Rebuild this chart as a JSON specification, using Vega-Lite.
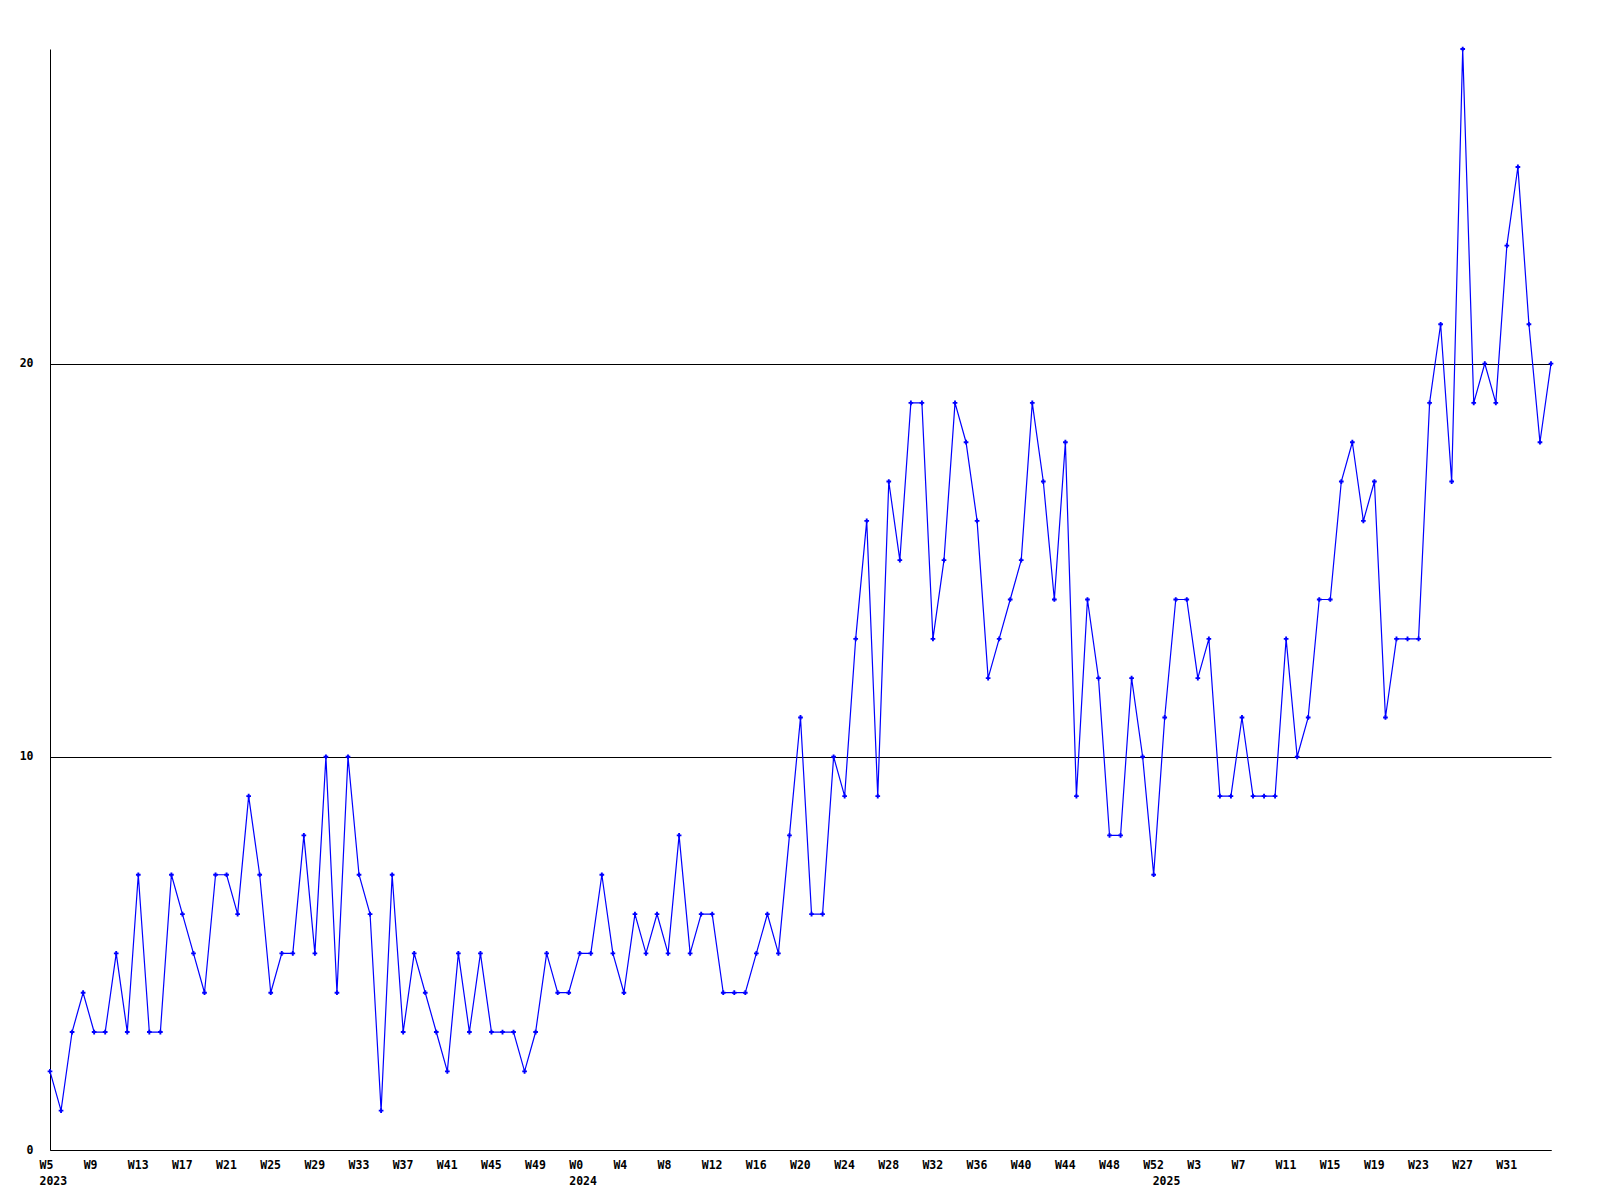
{
  "$schema": "https://vega.github.io/schema/vega-lite/v6.json",
  "width": 1501,
  "height": 1101,
  "autosize": {"type": "none"},
  "padding": {"left": 50, "top": 49, "right": 49, "bottom": 50},
  "background": "white",
  "data": {"values": [
    {"date": "2023-01-30", "value": 2}, {"date": "2023-02-06", "value": 1}, {"date": "2023-02-13", "value": 3}, {"date": "2023-02-20", "value": 4},
    {"date": "2023-02-27", "value": 3}, {"date": "2023-03-06", "value": 3}, {"date": "2023-03-13", "value": 5}, {"date": "2023-03-20", "value": 3},
    {"date": "2023-03-27", "value": 7}, {"date": "2023-04-03", "value": 3}, {"date": "2023-04-10", "value": 3}, {"date": "2023-04-17", "value": 7},
    {"date": "2023-04-24", "value": 6}, {"date": "2023-05-01", "value": 5}, {"date": "2023-05-08", "value": 4}, {"date": "2023-05-15", "value": 7},
    {"date": "2023-05-22", "value": 7}, {"date": "2023-05-29", "value": 6}, {"date": "2023-06-05", "value": 9}, {"date": "2023-06-12", "value": 7},
    {"date": "2023-06-19", "value": 4}, {"date": "2023-06-26", "value": 5}, {"date": "2023-07-03", "value": 5}, {"date": "2023-07-10", "value": 8},
    {"date": "2023-07-17", "value": 5}, {"date": "2023-07-24", "value": 10}, {"date": "2023-07-31", "value": 4}, {"date": "2023-08-07", "value": 10},
    {"date": "2023-08-14", "value": 7}, {"date": "2023-08-21", "value": 6}, {"date": "2023-08-28", "value": 1}, {"date": "2023-09-04", "value": 7},
    {"date": "2023-09-11", "value": 3}, {"date": "2023-09-18", "value": 5}, {"date": "2023-09-25", "value": 4}, {"date": "2023-10-02", "value": 3},
    {"date": "2023-10-09", "value": 2}, {"date": "2023-10-16", "value": 5}, {"date": "2023-10-23", "value": 3}, {"date": "2023-10-30", "value": 5},
    {"date": "2023-11-06", "value": 3}, {"date": "2023-11-13", "value": 3}, {"date": "2023-11-20", "value": 3}, {"date": "2023-11-27", "value": 2},
    {"date": "2023-12-04", "value": 3}, {"date": "2023-12-11", "value": 5}, {"date": "2023-12-18", "value": 4}, {"date": "2023-12-25", "value": 4},
    {"date": "2024-01-01", "value": 5}, {"date": "2024-01-08", "value": 5}, {"date": "2024-01-15", "value": 7}, {"date": "2024-01-22", "value": 5},
    {"date": "2024-01-29", "value": 4}, {"date": "2024-02-05", "value": 6}, {"date": "2024-02-12", "value": 5}, {"date": "2024-02-19", "value": 6},
    {"date": "2024-02-26", "value": 5}, {"date": "2024-03-04", "value": 8}, {"date": "2024-03-11", "value": 5}, {"date": "2024-03-18", "value": 6},
    {"date": "2024-03-25", "value": 6}, {"date": "2024-04-01", "value": 4}, {"date": "2024-04-08", "value": 4}, {"date": "2024-04-15", "value": 4},
    {"date": "2024-04-22", "value": 5}, {"date": "2024-04-29", "value": 6}, {"date": "2024-05-06", "value": 5}, {"date": "2024-05-13", "value": 8},
    {"date": "2024-05-20", "value": 11}, {"date": "2024-05-27", "value": 6}, {"date": "2024-06-03", "value": 6}, {"date": "2024-06-10", "value": 10},
    {"date": "2024-06-17", "value": 9}, {"date": "2024-06-24", "value": 13}, {"date": "2024-07-01", "value": 16}, {"date": "2024-07-08", "value": 9},
    {"date": "2024-07-15", "value": 17}, {"date": "2024-07-22", "value": 15}, {"date": "2024-07-29", "value": 19}, {"date": "2024-08-05", "value": 19},
    {"date": "2024-08-12", "value": 13}, {"date": "2024-08-19", "value": 15}, {"date": "2024-08-26", "value": 19}, {"date": "2024-09-02", "value": 18},
    {"date": "2024-09-09", "value": 16}, {"date": "2024-09-16", "value": 12}, {"date": "2024-09-23", "value": 13}, {"date": "2024-09-30", "value": 14},
    {"date": "2024-10-07", "value": 15}, {"date": "2024-10-14", "value": 19}, {"date": "2024-10-21", "value": 17}, {"date": "2024-10-28", "value": 14},
    {"date": "2024-11-04", "value": 18}, {"date": "2024-11-11", "value": 9}, {"date": "2024-11-18", "value": 14}, {"date": "2024-11-25", "value": 12},
    {"date": "2024-12-02", "value": 8}, {"date": "2024-12-09", "value": 8}, {"date": "2024-12-16", "value": 12}, {"date": "2024-12-23", "value": 10},
    {"date": "2024-12-30", "value": 7}, {"date": "2025-01-06", "value": 11}, {"date": "2025-01-13", "value": 14}, {"date": "2025-01-20", "value": 14},
    {"date": "2025-01-27", "value": 12}, {"date": "2025-02-03", "value": 13}, {"date": "2025-02-10", "value": 9}, {"date": "2025-02-17", "value": 9},
    {"date": "2025-02-24", "value": 11}, {"date": "2025-03-03", "value": 9}, {"date": "2025-03-10", "value": 9}, {"date": "2025-03-17", "value": 9},
    {"date": "2025-03-24", "value": 13}, {"date": "2025-03-31", "value": 10}, {"date": "2025-04-07", "value": 11}, {"date": "2025-04-14", "value": 14},
    {"date": "2025-04-21", "value": 14}, {"date": "2025-04-28", "value": 17}, {"date": "2025-05-05", "value": 18}, {"date": "2025-05-12", "value": 16},
    {"date": "2025-05-19", "value": 17}, {"date": "2025-05-26", "value": 11}, {"date": "2025-06-02", "value": 13}, {"date": "2025-06-09", "value": 13},
    {"date": "2025-06-16", "value": 13}, {"date": "2025-06-23", "value": 19}, {"date": "2025-06-30", "value": 21}, {"date": "2025-07-07", "value": 17},
    {"date": "2025-07-14", "value": 28}, {"date": "2025-07-21", "value": 19}, {"date": "2025-07-28", "value": 20}, {"date": "2025-08-04", "value": 19},
    {"date": "2025-08-11", "value": 23}, {"date": "2025-08-18", "value": 25}, {"date": "2025-08-25", "value": 21}, {"date": "2025-09-01", "value": 18},
    {"date": "2025-09-08", "value": 20}
  ]},
  "layer": [
    {
      "mark": {"type": "line", "color": "#0000ff", "strokeWidth": 1.2},
      "encoding": {
        "x": {
          "field": "date", "type": "temporal",
          "scale": {"type": "utc", "nice": false, "padding": 0},
          "axis": {
            "orient": "bottom",
            "title": null,
            "values": [
              {"year": 2023, "month": 1, "date": 30, "utc": true}, {"year": 2023, "month": 2, "date": 27, "utc": true},
              {"year": 2023, "month": 3, "date": 27, "utc": true}, {"year": 2023, "month": 4, "date": 24, "utc": true},
              {"year": 2023, "month": 5, "date": 22, "utc": true}, {"year": 2023, "month": 6, "date": 19, "utc": true},
              {"year": 2023, "month": 7, "date": 17, "utc": true}, {"year": 2023, "month": 8, "date": 14, "utc": true},
              {"year": 2023, "month": 9, "date": 11, "utc": true}, {"year": 2023, "month": 10, "date": 9, "utc": true},
              {"year": 2023, "month": 11, "date": 6, "utc": true}, {"year": 2023, "month": 12, "date": 4, "utc": true},
              {"year": 2024, "month": 1, "date": 1, "utc": true}, {"year": 2024, "month": 1, "date": 29, "utc": true},
              {"year": 2024, "month": 2, "date": 26, "utc": true}, {"year": 2024, "month": 3, "date": 25, "utc": true},
              {"year": 2024, "month": 4, "date": 22, "utc": true}, {"year": 2024, "month": 5, "date": 20, "utc": true},
              {"year": 2024, "month": 6, "date": 17, "utc": true}, {"year": 2024, "month": 7, "date": 15, "utc": true},
              {"year": 2024, "month": 8, "date": 12, "utc": true}, {"year": 2024, "month": 9, "date": 9, "utc": true},
              {"year": 2024, "month": 10, "date": 7, "utc": true}, {"year": 2024, "month": 11, "date": 4, "utc": true},
              {"year": 2024, "month": 12, "date": 2, "utc": true}, {"year": 2024, "month": 12, "date": 30, "utc": true},
              {"year": 2025, "month": 1, "date": 27, "utc": true}, {"year": 2025, "month": 2, "date": 24, "utc": true},
              {"year": 2025, "month": 3, "date": 24, "utc": true}, {"year": 2025, "month": 4, "date": 21, "utc": true},
              {"year": 2025, "month": 5, "date": 19, "utc": true}, {"year": 2025, "month": 6, "date": 16, "utc": true},
              {"year": 2025, "month": 7, "date": 14, "utc": true}, {"year": 2025, "month": 8, "date": 11, "utc": true}
            ],
            "labelExpr": "'W' + (toNumber(utcFormat(datum.value, '%U')) - (utcyear(datum.value) >= 2025 ? 1 : 0))",
            "ticks": false,
            "grid": false,
            "domain": true,
            "domainColor": "black",
            "domainWidth": 1,
            "labelAlign": "left",
            "labelBaseline": "top",
            "labelOffset": -11,
            "labelPadding": 9,
            "labelFont": "DejaVu Sans Mono",
            "labelFontWeight": "bold",
            "labelFontSize": 11.5,
            "labelColor": "black",
            "labelOverlap": false,
            "labelFlush": false,
            "labelBound": false
          }
        },
        "y": {
          "field": "value", "type": "quantitative",
          "scale": {"domain": [0, 28], "nice": false},
          "axis": {
            "title": null,
            "values": [0, 10, 20],
            "grid": true,
            "gridColor": "black",
            "gridOpacity": 1,
            "gridWidth": 1,
            "ticks": false,
            "domain": true,
            "domainColor": "black",
            "domainWidth": 1,
            "labelPadding": 17,
            "labelFont": "DejaVu Sans Mono",
            "labelFontWeight": "bold",
            "labelFontSize": 11.5,
            "labelColor": "black"
          }
        }
      }
    },
    {
      "mark": {"type": "point", "shape": "cross", "filled": true, "size": 22, "color": "#0000ff", "opacity": 1},
      "encoding": {
        "x": {
          "field": "date", "type": "temporal",
          "axis": {
            "orient": "bottom",
            "title": null,
            "values": [
              {"year": 2023, "month": 1, "date": 30, "utc": true},
              {"year": 2024, "month": 1, "date": 1, "utc": true},
              {"year": 2025, "month": 1, "date": 5, "utc": true}
            ],
            "labelExpr": "utcFormat(datum.value, '%Y')",
            "ticks": false,
            "grid": false,
            "domain": false,
            "labelAlign": "left",
            "labelBaseline": "top",
            "labelOffset": -11,
            "labelPadding": 25,
            "labelFont": "DejaVu Sans Mono",
            "labelFontWeight": "bold",
            "labelFontSize": 11.5,
            "labelColor": "black",
            "labelOverlap": false,
            "labelFlush": false,
            "labelBound": false
          }
        },
        "y": {"field": "value", "type": "quantitative"}
      }
    }
  ],
  "resolve": {"axis": {"x": "independent"}},
  "config": {"view": {"stroke": null}}
}
